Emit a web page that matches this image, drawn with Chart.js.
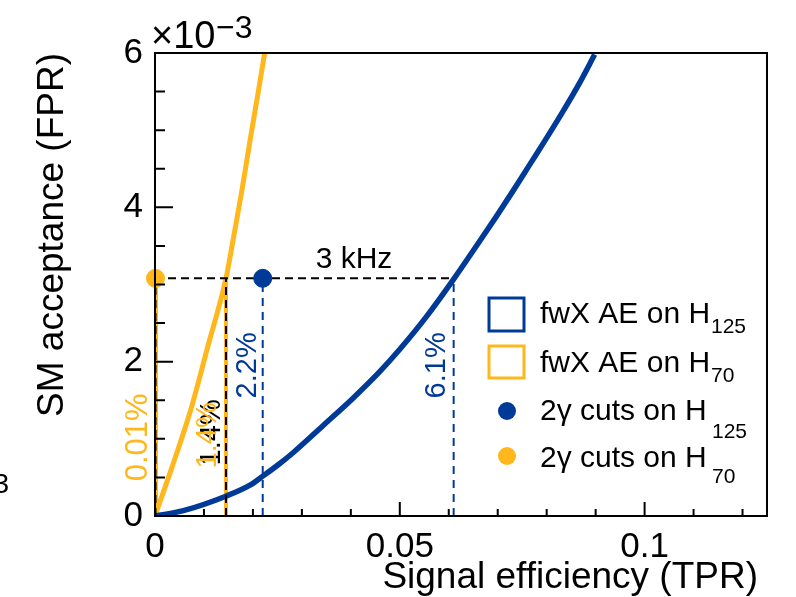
<!DOCTYPE html>
<html>
<head>
<meta charset="utf-8">
<script src="https://cdn.jsdelivr.net/npm/chart.js@4.4.1/dist/chart.umd.min.js"></script>
<style>
  body { margin: 0; background: #fff; }
  #wrap { width: 796px; height: 597px; }
</style>
</head>
<body>
<div id="wrap"><canvas id="roc" width="796" height="597"></canvas></div>
<script>
// ROC curves: signal efficiency (TPR) vs SM acceptance (FPR, in units of 1e-3)
const effH125 = [0, 0.0058, 0.0146, 0.0194, 0.0221, 0.0255, 0.0282, 0.0343, 0.0405, 0.0459, 0.0500, 0.0554, 0.0609, 0.0663, 0.0697, 0.0731, 0.0765, 0.0800, 0.0833, 0.0867, 0.0898];
const fprH125 = [0, 0.07, 0.26, 0.40, 0.52, 0.68, 0.82, 1.17, 1.53, 1.87, 2.16, 2.58, 3.06, 3.56, 3.88, 4.21, 4.55, 4.90, 5.24, 5.61, 5.98];
const effH70 = [0, 0.0034, 0.0075, 0.0108, 0.0145, 0.0159, 0.0177, 0.0194, 0.0211, 0.0224];
const fprH70 = [0, 0.62, 1.42, 2.20, 3.08, 3.56, 4.20, 4.86, 5.50, 6.0];

// 3 kHz rate line and the working points on it
const rateFpr = 3.08;
const cutEffH125 = 0.022;   // 2γ cuts, H125
const cutEffH70 = 0.0001;   // 2γ cuts, H70
const aeEffH125 = 0.061;    // fwX AE, H125
const aeEffH70 = 0.0145;    // fwX AE, H70
const pctLabels = ['0.01%', '1.4%', '2.2%', '6.1%'];

const xMin = 0, xMax = 0.125;
const yMin = 0, yMax = 6;

const BLUE = '#003a99';
const GOLD = '#ffb71c';
const FONT = '"Liberation Sans", Arial, Helvetica, sans-serif';

const pts = (xs, ys) => xs.map((x, i) => ({ x: x, y: ys[i] }));
const vline = (x, y0, y1) => [{ x: x, y: y0 }, { x: x, y: y1 }];

function rotText(ctx, str, cx, cy, color, size) {
    ctx.save();
    ctx.translate(cx, cy);
    ctx.rotate(-Math.PI / 2);
    ctx.textAlign = 'center';
    ctx.textBaseline = 'middle';
    ctx.fillStyle = color;
    ctx.font = size + 'px ' + FONT;
    ctx.fillText(str, 0, 0);
    ctx.restore();
}

function text(ctx, str, x, y, size, align) {
    ctx.font = size + 'px ' + FONT;
    ctx.textAlign = align || 'left';
    ctx.textBaseline = 'alphabetic';
    ctx.fillText(str, x, y);
}

// frame, inward ticks, titles, labels and legend
const decorations = {
    id: 'decorations',
    afterDatasetsDraw(chart) {
        const { ctx, chartArea: a, scales: { x, y } } = chart;
        ctx.save();
        ctx.strokeStyle = '#000';
        ctx.lineWidth = 2;
        ctx.strokeRect(a.left, a.top, a.right - a.left, a.bottom - a.top);

        ctx.beginPath();
        for (let i = 0; i <= 12; i++) {
            const py = y.getPixelForValue(i * 0.5);
            const len = i % 4 === 0 ? 18 : 10;
            ctx.moveTo(a.left, py);
            ctx.lineTo(a.left + len, py);
        }
        for (let i = 0; i <= 12; i++) {
            const px = x.getPixelForValue(i * 0.01);
            const len = i % 5 === 0 ? 14 : 7;
            ctx.moveTo(px, a.bottom);
            ctx.lineTo(px, a.bottom - len);
        }
        ctx.stroke();

        ctx.fillStyle = '#000';
        // axis titles
        text(ctx, 'Signal efficiency (TPR)', 758, 588, 37, 'right');
        ctx.save();
        ctx.translate(63, a.top);
        ctx.rotate(-Math.PI / 2);
        text(ctx, 'SM acceptance (FPR)', 0, 0, 37, 'right');
        ctx.restore();

        // exponent
        text(ctx, '\u00d710', 151, 48, 38);
        text(ctx, '\u22123', 216, 38, 32);
        text(ctx, '3', 9, 493, 28, 'right');

        // rate label
        const rp = y.getPixelForValue(rateFpr);
        text(ctx, '3 kHz', 354, rp - 10, 30, 'center');

        // percentages along the dashed verticals
        rotText(ctx, pctLabels[0], x.getPixelForValue(cutEffH70) - 17, rp + 159, GOLD, 31);
        rotText(ctx, pctLabels[1], x.getPixelForValue(aeEffH70) - 14, rp + 154, '#000', 29);
        rotText(ctx, pctLabels[1], x.getPixelForValue(aeEffH70) - 18, rp + 157, GOLD, 29);
        rotText(ctx, pctLabels[2], x.getPixelForValue(cutEffH125) - 15, rp + 87, BLUE, 29);
        rotText(ctx, pctLabels[3], x.getPixelForValue(aeEffH125) - 17, rp + 87, BLUE, 29);

        // legend
        ctx.lineWidth = 3;
        ctx.strokeStyle = BLUE;
        ctx.strokeRect(489, 298, 35, 33);
        ctx.strokeStyle = GOLD;
        ctx.strokeRect(489, 346, 35, 32);
        ctx.fillStyle = BLUE;
        ctx.beginPath(); ctx.arc(507, 411, 9, 0, Math.PI * 2); ctx.fill();
        ctx.fillStyle = GOLD;
        ctx.beginPath(); ctx.arc(507, 456, 9, 0, Math.PI * 2); ctx.fill();

        ctx.fillStyle = '#000';
        text(ctx, 'fwX AE on H', 540, 323, 30);
        text(ctx, '125', 711, 333, 21);
        text(ctx, 'fwX AE on H', 540, 372, 30);
        text(ctx, '70', 711, 382, 21);
        text(ctx, '2\u03b3 cuts on H', 540, 420, 30);
        text(ctx, '125', 712, 438, 21);
        text(ctx, '2\u03b3 cuts on H', 540, 467, 30);
        text(ctx, '70', 712, 483, 21);
        ctx.restore();
    }
};

new Chart(document.getElementById('roc').getContext('2d'), {
    type: 'scatter',
    data: {
        datasets: [
            {
                label: '2γ cuts on H125',
                data: [{ x: cutEffH125, y: rateFpr }],
                backgroundColor: BLUE, borderColor: BLUE,
                pointRadius: 9, clip: false, order: 0
            },
            {
                label: '2γ cuts on H70',
                data: [{ x: cutEffH70, y: rateFpr }],
                backgroundColor: GOLD, borderColor: GOLD,
                pointRadius: 9, clip: false, order: 0
            },
            {
                label: 'rate',
                data: [{ x: 0, y: rateFpr }, { x: aeEffH125, y: rateFpr }],
                showLine: true, borderColor: '#000', borderWidth: 2,
                borderDash: [8, 5], pointRadius: 0, order: 1
            },
            {
                data: vline(cutEffH70, 0, rateFpr),
                showLine: true, borderColor: '#000', borderWidth: 2,
                borderDash: [8, 5], pointRadius: 0, order: 1
            },
            {
                data: vline(aeEffH70, 0, rateFpr),
                showLine: true, borderColor: '#000', borderWidth: 2,
                borderDash: [8, 5], pointRadius: 0, order: 1
            },
            {
                data: vline(cutEffH125, 0, rateFpr),
                showLine: true, borderColor: BLUE, borderWidth: 2,
                borderDash: [8, 6], pointRadius: 0, order: 1
            },
            {
                data: vline(aeEffH125, 0, rateFpr),
                showLine: true, borderColor: BLUE, borderWidth: 2,
                borderDash: [8, 6], pointRadius: 0, order: 1
            },
            {
                label: 'fwX AE on H125',
                data: pts(effH125, fprH125),
                showLine: true, borderColor: BLUE, borderWidth: 5.5,
                pointRadius: 0, cubicInterpolationMode: 'monotone', order: 2
            },
            {
                label: 'fwX AE on H70',
                data: pts(effH70, fprH70),
                showLine: true, borderColor: GOLD, borderWidth: 5,
                pointRadius: 0, cubicInterpolationMode: 'monotone', order: 2
            },
            {
                data: vline(cutEffH70, 0, rateFpr),
                showLine: true, borderColor: GOLD, borderWidth: 5,
                pointRadius: 0, order: 3
            },
            {
                data: vline(aeEffH70, 0, rateFpr),
                showLine: true, borderColor: GOLD, borderWidth: 4,
                pointRadius: 0, order: 3
            }
        ]
    },
    options: {
        responsive: false,
        animation: false,
        events: [],
        layout: { padding: { top: 53, right: 29, left: 0, bottom: 0 } },
        plugins: { legend: { display: false }, tooltip: { enabled: false } },
        scales: {
            x: {
                type: 'linear', min: xMin, max: xMax,
                grid: { display: false, drawTicks: false },
                border: { display: false },
                ticks: {
                    stepSize: 0.05, includeBounds: false, padding: 10,
                    color: '#000', font: { family: FONT, size: 35 },
                    maxRotation: 0,
                    callback: (v) => String(parseFloat(v.toFixed(3)))
                },
                afterFit: (s) => { s.height = 81; }
            },
            y: {
                type: 'linear', min: yMin, max: yMax,
                grid: { display: false, drawTicks: false },
                border: { display: false },
                ticks: {
                    stepSize: 2, padding: 12,
                    color: '#000', font: { family: FONT, size: 35 }
                },
                afterFit: (s) => { s.width = 155; }
            }
        }
    },
    plugins: [decorations]
});
</script>
</body>
</html>
